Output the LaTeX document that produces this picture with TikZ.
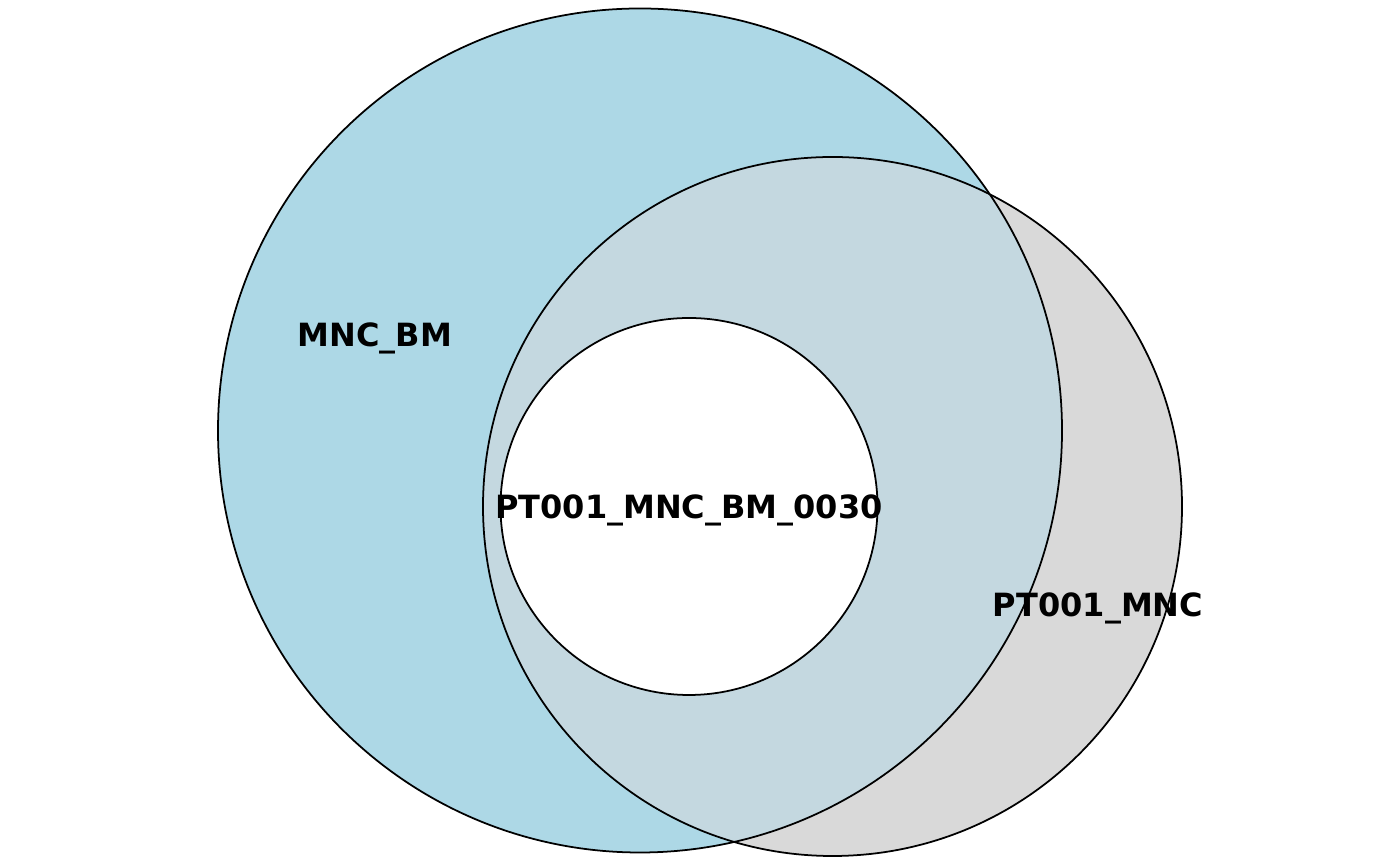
\documentclass[tikz,border=0pt]{standalone}
\usepackage{fontspec}
\setmainfont{DejaVu Sans}
\definecolor{bmblue}{RGB}{173,216,230}
\definecolor{mncgray}{RGB}{217,217,217}
\definecolor{bothblue}{RGB}{196,216,224}
\begin{document}
\begin{tikzpicture}[x=0.01cm, y=-0.01cm, line join=round, line cap=round,
	font=\bfseries\fontsize{9.1}{11}\selectfont,
	setline/.style={draw=black, line width=0.5pt},
	setlabel/.style={inner sep=0pt}]
	\useasboundingbox (0,0) rectangle (1400,865);
	% set regions
	\coordinate (bm) at (640,430.5);
	\coordinate (mnc) at (832.5,506.5);
	\coordinate (sample) at (689,506.5);
	\fill[bmblue] (bm) circle (422);
	\fill[mncgray] (mnc) circle (349.5);
	\begin{scope}
		\clip (bm) circle (422);
		\fill[bothblue] (mnc) circle (349.5);
	\end{scope}
	\fill[white] (sample) circle (188.5);
	% outlines
	\draw[setline] (bm) circle (422);
	\draw[setline] (mnc) circle (349.5);
	\draw[setline] (sample) circle (188.5);
	% labels
	\path (375,338) node[setlabel] (lbm) {MNC\_BM};
	\path (689,510) node[setlabel] (lsample) {PT001\_MNC\_BM\_0030};
	\path (1098,608) node[setlabel] (lmnc) {PT001\_MNC};
\end{tikzpicture}
\end{document}
